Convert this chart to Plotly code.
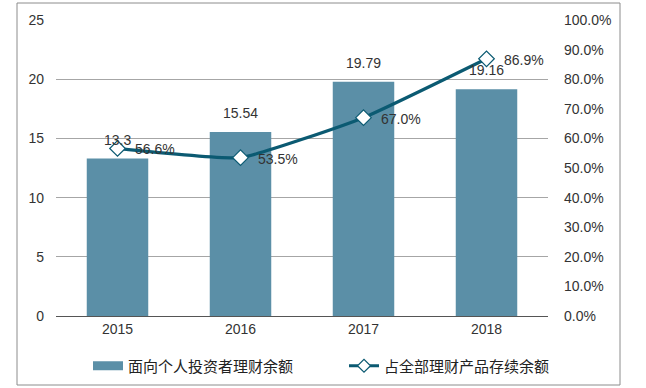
import plotly.graph_objects as go

years = ["2015", "2016", "2017", "2018"]
balance = [13.3, 15.54, 19.79, 19.16]
share = [0.566, 0.535, 0.670, 0.869]
bar_name = "面向个人投资者理财余额"
line_name = "占全部理财产品存续余额"

font_family = "Liberation Sans, Arial, Noto Sans CJK SC, sans-serif"
txt_color = "#333333"
bar_color = "#5b8fa7"
line_color = "#0b5a72"

fig = go.Figure()
fig.add_trace(go.Bar(
    x=years, y=balance, name=bar_name, showlegend=False,
    marker=dict(color=bar_color, line=dict(width=0)),
    width=0.5,
))
fig.add_trace(go.Scatter(
    x=years, y=share, name=line_name, yaxis="y2", showlegend=False,
    mode="lines+markers",
    line=dict(color=line_color, width=3.2, shape="spline", smoothing=0.4),
    marker=dict(symbol="diamond", size=12, color="white",
                line=dict(color=line_color, width=1.2)),
    cliponaxis=False,
))
# legend entries
fig.add_trace(go.Scatter(
    x=[None], y=[None], name=bar_name, mode="lines", legend="legend",
    line=dict(color=bar_color, width=9),
))
fig.add_trace(go.Scatter(
    x=[None], y=[None], name=line_name, mode="lines+markers", yaxis="y2",
    legend="legend2",
    line=dict(color=line_color, width=3),
    marker=dict(symbol="diamond", size=10, color="white",
                line=dict(color=line_color, width=1.2)),
))

# bar value labels (category axis -> serial index positions)
annotations = [
    dict(x=i, y=v, xref="x", yref="y", text=f"{v:g}", showarrow=False,
         yanchor="bottom", yshift=9, font=dict(size=14, color=txt_color))
    for i, v in enumerate(balance)
]
# line value labels
annotations += [
    dict(x=i, y=v, xref="x", yref="y2", text=f"{v*100:.1f}%", showarrow=False,
         xanchor="left", yanchor="middle", xshift=15, yshift=-1,
         font=dict(size=14, color=txt_color))
    for i, v in enumerate(share)
]

legend_font = dict(size=15, family="Noto Sans CJK SC, sans-serif", color="#222222")

fig.update_layout(
    width=646, height=388,
    margin=dict(l=56, r=98, t=20, b=72, autoexpand=False),
    paper_bgcolor="white", plot_bgcolor="white",
    font=dict(family=font_family, size=13, color=txt_color),
    showlegend=True,
    annotations=annotations,
    legend=dict(orientation="h", xref="container", yref="container",
                x=(96 - 8) / 646, xanchor="left", y=(388 - 366) / 388, yanchor="middle",
                font=legend_font),
    legend2=dict(orientation="h", xref="container", yref="container",
                 x=(352 - 8) / 646, xanchor="left", y=(388 - 366) / 388, yanchor="middle",
                 font=legend_font),
    xaxis=dict(type="category", showgrid=False, ticks="", showline=True,
               linecolor="#555555", linewidth=1, tickfont=dict(size=14),
               automargin=False, range=[-0.5, 3.5]),
    yaxis=dict(range=[0, 25], dtick=5, showgrid=True, gridcolor="#a6a6a6",
               gridwidth=1, zeroline=False, showline=False, ticks="",
               tickfont=dict(size=14), ticklabelstandoff=11, automargin=False),
    yaxis2=dict(range=[0, 1], dtick=0.1, tickformat=".1%", overlaying="y",
                side="right", showgrid=False, zeroline=False, showline=False,
                ticks="", tickfont=dict(size=14), ticklabelstandoff=15,
                automargin=False),
    shapes=[dict(type="rect", xref="paper", yref="paper",
                 x0=(17-56)/492, x1=(620-56)/492,
                 y0=(316-385)/296, y1=(316-3)/296,
                 line=dict(color="#8c8c8c", width=1), fillcolor="rgba(0,0,0,0)",
                 layer="above")],
)

fig.write_html("out.html", config={"displayModeBar": False},
               post_script="document.body.style.margin='0';document.body.style.padding='0';")
